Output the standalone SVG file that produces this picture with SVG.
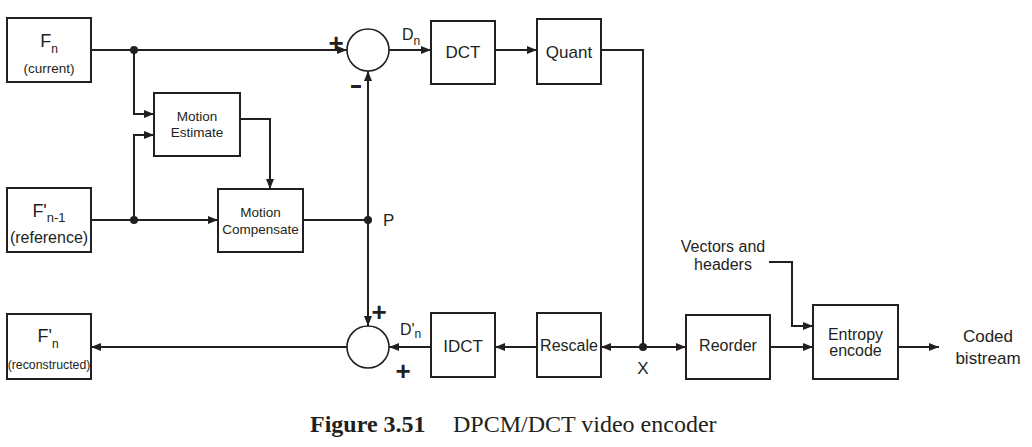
<svg xmlns="http://www.w3.org/2000/svg" width="1032" height="447" viewBox="0 0 1032 447">
<defs>
<marker id="arr" markerUnits="userSpaceOnUse" markerWidth="11" markerHeight="9" refX="10" refY="4" orient="auto">
<path d="M0,0 L10,4 L0,8 z" fill="#231f20"/>
</marker>
<style>
.box{fill:#fff;stroke:#231f20;stroke-width:2}
.sum{fill:#fff;stroke:#231f20;stroke-width:1.6}
.ln{fill:none;stroke:#231f20;stroke-width:2}
.ar{marker-end:url(#arr)}
.dot{fill:#231f20}
text{font-family:"Liberation Sans",Arial,sans-serif;fill:#231f20}
.c{text-anchor:middle}
.sign{font-weight:bold;font-size:26px;text-anchor:middle}
.cap{font-family:"Liberation Serif","Times New Roman",serif;font-size:24px}
</style>
</defs>
<rect width="1032" height="447" fill="#fff"/>

<g id="connectors">
<path class="ln ar" d="M91,50 H347"/>
<path class="ln ar" d="M134,50 V114 H154"/>
<path class="ln ar" d="M91,220 H218"/>
<path class="ln ar" d="M134,220 V135 H154"/>
<path class="ln ar" d="M240,119 H270 V189"/>
<path class="ln" d="M303,220 H368"/>
<path class="ln ar" d="M368,220 V71"/>
<path class="ln ar" d="M368,220 V326"/>
<path class="ln ar" d="M389,50 H431"/>
<path class="ln ar" d="M495,50 H537"/>
<path class="ln" d="M601,50 H643 V347"/>
<path class="ln ar" d="M643,347 H601"/>
<path class="ln ar" d="M643,347 H686"/>
<path class="ln ar" d="M537,347 H495"/>
<path class="ln ar" d="M431,347 H389"/>
<path class="ln ar" d="M347,347 H91"/>
<path class="ln ar" d="M770,347 H813"/>
<path class="ln ar" d="M769,262 H792 V326 H813"/>
<path class="ln ar" d="M898,347 H939"/>
<circle class="dot" cx="134" cy="50" r="4"/>
<circle class="dot" cx="134" cy="220" r="4"/>
<circle class="dot" cx="368" cy="220" r="4"/>
<circle class="dot" cx="643" cy="347" r="4"/>
<text x="383" y="226" font-size="17">P</text>
<text class="c" x="643" y="374" font-size="17">X</text>
<text x="402" y="40" font-size="16">D<tspan font-size="12" dy="5">n</tspan></text>
<text x="400" y="335" font-size="16">D'<tspan font-size="12" dy="3">n</tspan></text>
<text x="723" y="252" class="c" font-size="16">Vectors and</text>
<text x="723" y="270" class="c" font-size="16">headers</text>
<text x="988" y="342" class="c" font-size="17">Coded</text>
<text x="988" y="364" class="c" font-size="17">bistream</text>
</g>

<g id="fn">
<rect class="box" x="7" y="18" width="84" height="64"/>
<text class="c" x="49" y="47" font-size="18">F<tspan font-size="12" dy="6">n</tspan></text>
<text class="c" x="49" y="73" font-size="13.5">(current)</text>
</g>

<g id="fref">
<rect class="box" x="7" y="188" width="84" height="64"/>
<text class="c" x="49" y="217" font-size="18">F'<tspan font-size="13" dy="5">n-1</tspan></text>
<text class="c" x="49" y="243" font-size="16">(reference)</text>
</g>

<g id="frec">
<rect class="box" x="7" y="314" width="84" height="65"/>
<text class="c" x="48" y="342" font-size="18">F'<tspan font-size="12" dy="6">n</tspan></text>
<text class="c" x="49" y="369" font-size="12.3">(reconstructed)</text>
</g>

<g id="me">
<rect class="box" x="154" y="93" width="86" height="63"/>
<text class="c" x="197" y="121" font-size="13.5">Motion</text>
<text class="c" x="197" y="137" font-size="13.5">Estimate</text>
</g>

<g id="mc">
<rect class="box" x="218" y="189" width="85" height="63"/>
<text class="c" x="260.5" y="217" font-size="13.5">Motion</text>
<text class="c" x="260.5" y="234" font-size="13.5">Compensate</text>
</g>

<g id="sub">
<circle class="sum" cx="368" cy="50" r="21"/>
<text class="sign" x="336" y="52">+</text>
<text class="sign" x="0" y="0" transform="translate(356,93) scale(1.5,1)" font-size="28">-</text>
</g>

<g id="add">
<circle class="sum" cx="368" cy="347" r="21"/>
<text class="sign" x="379" y="321">+</text>
<text class="sign" x="403" y="380">+</text>
</g>

<g id="dct">
<rect class="box" x="431" y="21" width="64" height="63"/>
<text class="c" x="463" y="58" font-size="17">DCT</text>
</g>

<g id="quant">
<rect class="box" x="537" y="19" width="64" height="65"/>
<text class="c" x="569" y="58" font-size="17">Quant</text>
</g>

<g id="idct">
<rect class="box" x="431" y="313" width="64" height="64"/>
<text class="c" x="463" y="352" font-size="17">IDCT</text>
</g>

<g id="rescale">
<rect class="box" x="537" y="313" width="64" height="64"/>
<text class="c" x="569" y="351" font-size="16">Rescale</text>
</g>

<g id="reorder">
<rect class="box" x="686" y="315" width="84" height="64"/>
<text class="c" x="728" y="351" font-size="16">Reorder</text>
</g>

<g id="entropy">
<rect class="box" x="813" y="305" width="85" height="74"/>
<text class="c" x="855.5" y="340" font-size="16">Entropy</text>
<text class="c" x="855.5" y="356" font-size="16">encode</text>
</g>

<g id="caption">
<text class="cap" x="310" y="432"><tspan font-weight="bold">Figure 3.51</tspan></text>
<text class="cap" x="453" y="432">DPCM/DCT video encoder</text>
</g>
</svg>
